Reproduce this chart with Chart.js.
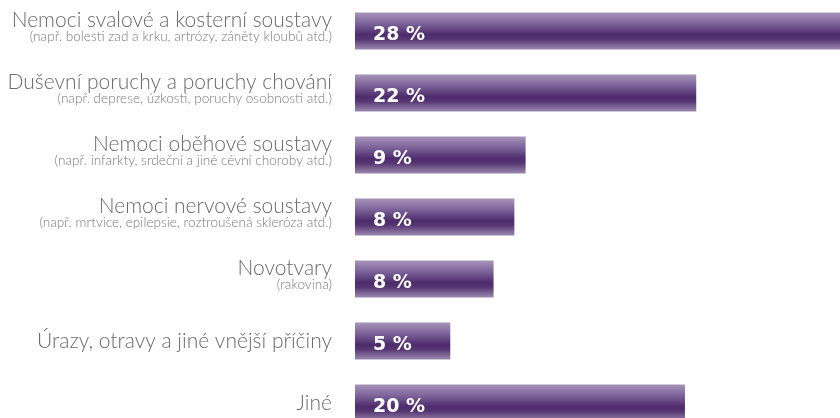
<!DOCTYPE html>
<html lang="cs">
<head>
<meta charset="utf-8">
<title>Nejčastější příčiny</title>
<script src="https://cdn.jsdelivr.net/npm/chart.js@4.4.1/dist/chart.umd.min.js"></script>
<style>
  html, body { margin: 0; padding: 0; background: #fff; overflow: hidden; }
  #wrap { position: relative; width: 840px; height: 434px; }
</style>
</head>
<body>
<div id="wrap"><canvas id="causesChart"></canvas></div>
<script>
const categories = [
    'Nemoci svalové a kosterní soustavy',
    'Duševní poruchy a poruchy chování',
    'Nemoci oběhové soustavy',
    'Nemoci nervové soustavy',
    'Novotvary',
    'Úrazy, otravy a jiné vnější příčiny',
    'Jiné'
];
const subLabels = [
    '(např. bolesti zad a krku, artrózy, záněty kloubů atd.)',
    '(např. deprese, úzkosti, poruchy osobnosti atd.)',
    '(např. infarkty, srdeční a jiné cévní choroby atd.)',
    '(např. mrtvice, epilepsie, roztroušená skleróza atd.)',
    '(rakovina)',
    '',
    ''
];
const shareLabels = ['28 %', '22 %', '9 %', '8 %', '8 %', '5 %', '20 %'];
// bar lengths as drawn in the picture (they are not strictly proportional to the printed shares)
const barLengths = [28, 19.7, 9.85, 9.2, 8.0, 5.5, 19.05];

function barGradient(context) {
    const chart = context.chart;
    const yScale = chart.scales.y;
    if (!chart.chartArea || !yScale) return '#5a3a78';
    const c = yScale.getPixelForValue(context.dataIndex);
    const g = chart.ctx.createLinearGradient(0, c - 18.5, 0, c + 18.5);
    g.addColorStop(0, '#a794b9');
    g.addColorStop(0.3, '#7c639a');
    g.addColorStop(0.6, '#4e2c6c');
    g.addColorStop(0.72, '#553572');
    g.addColorStop(1, '#9c88b0');
    return g;
}

const rowLabels = {
    id: 'rowLabels',
    afterDatasetsDraw(chart) {
        const ctx = chart.ctx;
        const y = chart.scales.y;
        const meta = chart.getDatasetMeta(0);
        const right = chart.chartArea.left - 23;
        ctx.save();
        ctx.textBaseline = 'alphabetic';
        categories.forEach((name, i) => {
            const c = y.getPixelForValue(i);
            ctx.textAlign = 'right';
            ctx.fillStyle = '#6a6a6a';
            ctx.font = '300 21px Lato';
            if (subLabels[i]) {
                ctx.fillText(name, right, c - 4);
                ctx.font = '300 13.6px Lato';
                ctx.fillStyle = '#7a7a7a';
                ctx.fillText(subLabels[i], right, c + 10);
            } else {
                ctx.fillText(name, right, c + 7);
            }
            const bar = meta.data[i];
            ctx.textAlign = 'left';
            ctx.fillStyle = '#ffffff';
            ctx.font = '700 19px "DejaVu Sans"';
            ctx.fillText(shareLabels[i], bar.base + 18, c + 9);
        });
        ctx.restore();
    }
};

new Chart(document.getElementById('causesChart'), {
    type: 'bar',
    data: {
        labels: categories,
        datasets: [{
            data: barLengths,
            backgroundColor: barGradient,
            borderWidth: 0,
            categoryPercentage: 1,
            barPercentage: 0.6
        }]
    },
    options: {
        indexAxis: 'y',
        responsive: true,
        maintainAspectRatio: false,
        animation: false,
        layout: { padding: { left: 355, right: 0, top: 0, bottom: 0 } },
        scales: {
            x: { display: false, min: 0, max: 28 },
            y: { display: false }
        },
        plugins: {
            legend: { display: false },
            tooltip: { enabled: false }
        }
    },
    plugins: [rowLabels]
});
</script>
</body>
</html>
